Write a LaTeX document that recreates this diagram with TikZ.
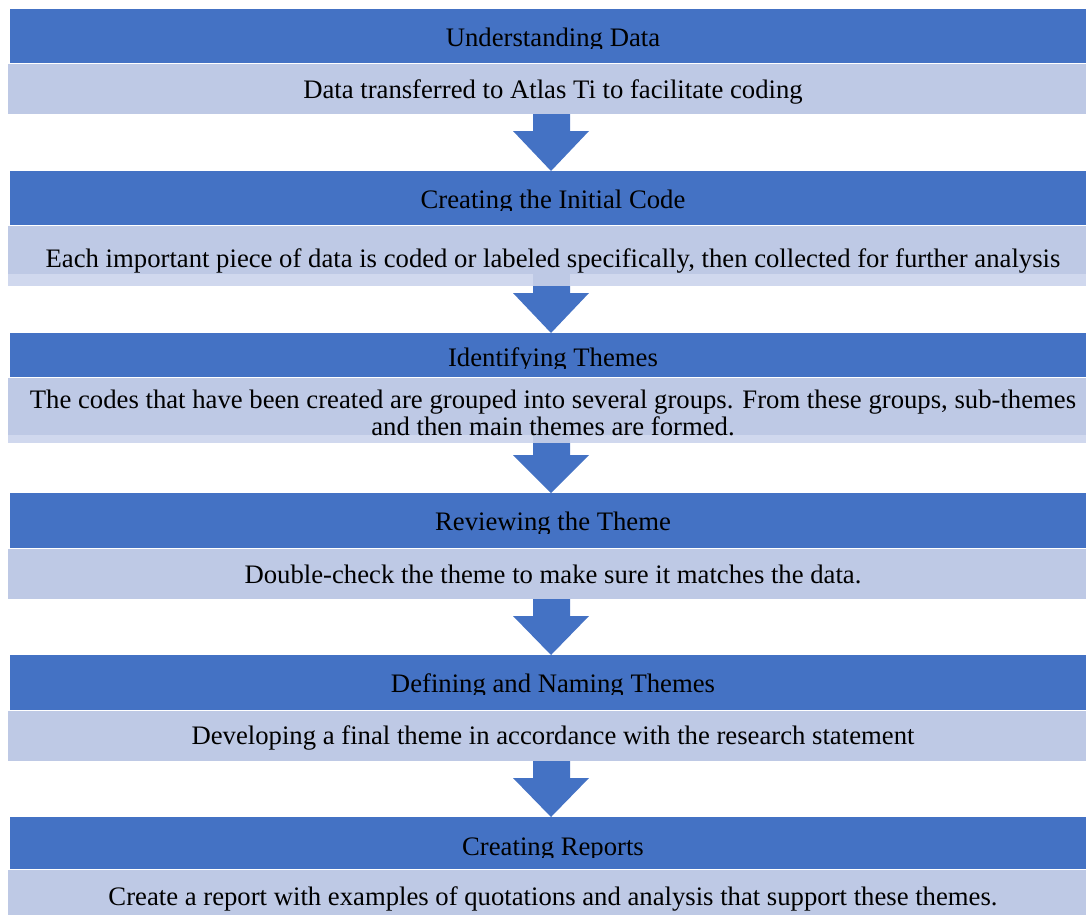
\documentclass[tikz,border=0pt]{standalone}
\usepackage{fontspec}
\setmainfont{Liberation Serif}
\usetikzlibrary{calc}
\definecolor{dk}{HTML}{4472C4}
\definecolor{lt}{HTML}{BEC9E5}
\definecolor{ltx}{HTML}{D0D8EE}
\begin{document}
\begin{tikzpicture}[x=1pt,y=-1pt,
  dkbar/.style={fill=dk,draw=none,inner sep=0pt,outer sep=0pt,anchor=north west,minimum width=1090pt},
  ltbar/.style={fill=lt,draw=none,inner sep=0pt,outer sep=0pt,anchor=north west,minimum width=1092pt},
  txt/.style={anchor=base,inner sep=0pt,outer sep=0pt,text=black,font=\fontsize{26.7}{29}\selectfont},
  arrowfill/.style={fill=dk,draw=none}]
\useasboundingbox (0,0) rectangle (1086,914);
\clip (0,0) rectangle (1086,914);
% ---------- bars ----------
\node[dkbar,minimum height=54pt] (h1) at (10,9) {};
\node[ltbar,minimum height=50pt] (d1) at (8,64) {};
\node[dkbar,minimum height=54pt] (h2) at (10,171) {};
\node[ltbar,minimum height=48pt] (d2) at (8,226) {};
\node[dkbar,minimum height=44pt] (h3) at (10,333) {};
\node[ltbar,minimum height=57pt] (d3) at (8,378) {};
\node[dkbar,minimum height=55pt] (h4) at (10,493) {};
\node[ltbar,minimum height=50pt] (d4) at (8,549) {};
\node[dkbar,minimum height=55pt] (h5) at (10,655) {};
\node[ltbar,minimum height=50pt] (d5) at (8,711) {};
\node[dkbar,minimum height=52pt] (h6) at (10,817) {};
\node[ltbar,minimum height=50pt] (d6) at (8,870) {};
% ---------- block arrows ----------
\fill[arrowfill] (533,0 |- d1.south) -- (570,0 |- d1.south) -- (570,131) -- (589,131)
  -- (551,0 |- h2.north) -- (513,131) -- (533,131) -- cycle;
\fill[arrowfill] (533,0 |- d2.south) -- (570,0 |- d2.south) -- (570,293) -- (589,293)
  -- (551,0 |- h3.north) -- (513,293) -- (533,293) -- cycle;
\fill[arrowfill] (533,0 |- d3.south) -- (570,0 |- d3.south) -- (570,455) -- (589,455)
  -- (551,0 |- h4.north) -- (513,455) -- (533,455) -- cycle;
\fill[arrowfill] (533,0 |- d4.south) -- (570,0 |- d4.south) -- (570,616) -- (589,616)
  -- (551,0 |- h5.north) -- (513,616) -- (533,616) -- cycle;
\fill[arrowfill] (533,0 |- d5.south) -- (570,0 |- d5.south) -- (570,778) -- (589,778)
  -- (551,0 |- h6.north) -- (513,778) -- (533,778) -- cycle;
% ---------- overflow strips of the text boxes ----------
\fill[ltx] (8,0 |- d2.south) rectangle (1100,286);
\fill[lt] (533,0 |- d2.south) rectangle (570,286);
\fill[ltx] (8,0 |- d3.south) rectangle (1100,443);
\fill[lt] (533,0 |- d3.south) rectangle (570,443);
% ---------- header texts (clipped at the bottom) ----------
\begin{scope}\clip (0,9) rectangle (1086,48);
  \node[txt] (th1) at (553,46) {Understanding Data};\end{scope}
\begin{scope}\clip (0,171) rectangle (1086,210);
  \node[txt] (th2) at (553,208) {Creating the Initial Code};\end{scope}
\begin{scope}\clip (0,333) rectangle (1086,368);
  \node[txt] (th3) at (553,366) {Identifying Themes};\end{scope}
\begin{scope}\clip (0,493) rectangle (1086,533);
  \node[txt] (th4) at (553,530) {Reviewing the Theme};\end{scope}
\begin{scope}\clip (0,655) rectangle (1086,694);
  \node[txt] (th5) at (553,692) {Defining and Naming Themes};\end{scope}
\begin{scope}\clip (0,817) rectangle (1086,857);
  \node[txt] (th6) at (553,855) {Creating Reports};\end{scope}
% ---------- description texts ----------
\node[txt] (td1) at (553,98) {Data transferred to Atlas Ti to facilitate coding};
\node[txt] (td2) at (553,267) {Each important piece of data is coded or labeled specifically, then collected for further analysis};
\node[txt] (td3a) at (553,408) {The codes that have been created are grouped into several groups. From these groups, sub-themes};
\node[txt] (td3b) at (553,435) {and then main themes are formed.};
\node[txt] (td4) at (553,583) {Double-check the theme to make sure it matches the data.};
\node[txt] (td5) at (553,744) {Developing a final theme in accordance with the research statement};
\node[txt] (td6) at (553,905) {Create a report with examples of quotations and analysis that support these themes.};
\end{tikzpicture}
\end{document}
